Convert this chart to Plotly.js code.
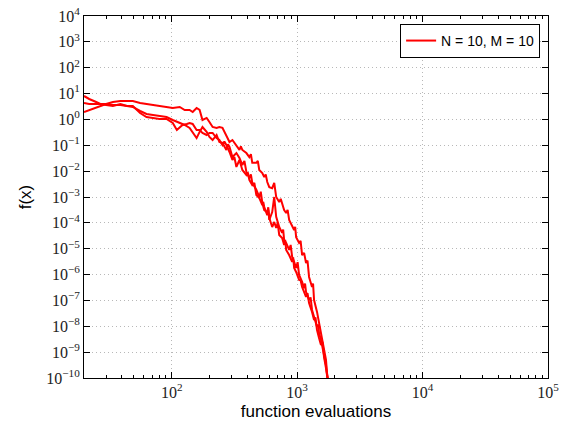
<!DOCTYPE html>
<html>
<head>
<meta charset="utf-8">
<script src="https://cdn.plot.ly/plotly-3.0.1.min.js"></script>
<style>html,body{margin:0;padding:0;background:#fff;}#chart{width:563px;height:422px;}</style>
</head>
<body>
<div id="chart"></div>
<script>
// Run 1 (function evaluations, f(x))
const evals1 = [20,22,25,27,30,34,39,44,49,56,63,71,80,91,102,116,127,139,147,158,167,176,190,200,212,228,240,254,273,289,305,328,347,356,366,394,416,428,439,473,486,499,528,547,562,578,600,633,657,681,720,740,760,788,818,840,864,913,947,965,982,1037,1066,1096,1137,1178,1210,1245,1315,1340,1365,1441,1495,1550,1638,1699,1730,1795];
const fx1 = [1.94,2.32,2.77,3.31,3.96,4.73,5.16,5.16,5.16,4.33,3.96,3.62,3.31,3.03,2.77,3.03,2.32,2.32,1.94,2.77,2.32,0.95,1.14,0.80,0.51,0.47,0.51,0.47,0.25,0.134,0.16,0.103,0.066,0.09,0.066,0.050,0.035,0.045,0.021,0.021,0.025,0.0111,0.0085,0.0059,0.0075,0.0038,0.0024,0.0022,0.0035,1.0e-3,6.4e-4,8.5e-4,4.9e-4,3.1e-4,2.4e-4,3.2e-4,1.3e-4,6.9e-5,5.3e-5,7.0e-5,2.8e-5,1.67e-5,2.0e-5,5.7e-6,6.9e-6,2.8e-6,3.5e-6,8.1e-7,3.3e-7,4.5e-7,1.04e-7,3.6e-8,1.35e-8,5.5e-9,1.2e-9,5.0e-10,1.57e-10,5.4e-11];

// Run 2
const evals2 = [20,22,25,27,30,34,39,44,49,56,63,71,80,91,102,110,116,122,132,139,147,158,167,176,190,200,212,228,240,254,263,273,289,305,316,328,347,366,394,405,416,439,456,473,499,528,537,547,578,589,600,633,657,681,720,760,774,788,818,864,888,913,947,982,1009,1037,1096,1137,1157,1178,1245,1280,1315,1365,1441,1468,1495,1550,1638,1699,1730,1762];
const fx2 = [8.07,6.18,4.73,3.96,3.62,3.31,3.96,3.31,3.31,1.77,1.24,1.14,1.04,1.04,0.73,0.39,0.51,0.61,0.67,0.73,0.67,0.39,0.39,0.30,0.25,0.30,0.30,0.19,0.16,0.103,0.14,0.103,0.055,0.027,0.035,0.0145,0.027,0.0111,0.0071,0.009,0.0046,0.0029,0.0035,0.0012,9.2e-4,4.9e-4,6.5e-4,4.1e-4,2.0e-4,3.2e-4,1.3e-4,2.6e-4,1.0e-3,1.7e-4,6.9e-5,4.1e-5,5.5e-5,2.2e-5,1.67e-5,9.0e-6,1.4e-5,4.8e-6,3.1e-6,1.8e-6,3.0e-6,9.7e-7,5.2e-7,3.0e-7,4.5e-7,2.1e-7,1.04e-7,1.3e-7,4.3e-8,2.3e-8,9.4e-9,1.2e-8,5.5e-9,3.0e-9,9.3e-10,3.2e-10,1.3e-10,5.4e-11];

// Run 3
const evals3 = [20,22,25,27,30,34,39,44,49,56,63,71,80,91,102,116,127,139,147,158,167,176,190,200,212,228,240,254,273,281,289,305,328,347,366,380,394,416,428,439,473,499,513,528,547,578,589,600,633,657,681,700,720,760,788,803,818,864,913,930,947,982,1037,1066,1096,1137,1178,1210,1245,1315,1365,1400,1441,1495,1550,1594,1638,1699,1762];
const fx3 = [4.33,3.96,3.96,3.96,3.96,3.62,3.62,3.31,3.03,2.12,1.62,1.49,1.36,1.24,0.95,0.73,0.61,0.47,0.33,0.19,0.33,0.51,0.33,0.21,0.16,0.25,0.134,0.123,0.066,0.11,0.086,0.035,0.050,0.032,0.0173,0.025,0.0093,0.0054,0.0075,0.0035,0.0019,1.0e-3,1.6e-3,5.9e-4,3.1e-4,2.6e-4,4.0e-4,1.55e-4,6.9e-5,1.08e-4,6.3e-5,1.0e-4,3.4e-5,2.6e-5,1.4e-5,2.2e-5,9.0e-6,5.7e-6,3.1e-6,4.6e-6,1.8e-6,1.26e-6,6.2e-7,6.0e-7,3.3e-7,2.1e-7,1.36e-7,1.9e-7,8.0e-8,3.6e-8,1.76e-8,2.2e-8,7.2e-9,3.5e-9,1.9e-9,2.5e-9,6.5e-10,2.4e-10,8.4e-11];

const legendLabel = "N = 10, M = 10";
const xTickVals = [1e2, 1e3, 1e4, 1e5];
const xTickText = ["10<sup>2</sup>","10<sup>3</sup>","10<sup>4</sup>","10<sup>5</sup>"];
const yExponents = [4,3,2,1,0,-1,-2,-3,-4,-5,-6,-7,-8,-9,-10];
const yTickVals = yExponents.map(e => Math.pow(10, e));
const yTickText = yExponents.map(e => "10<sup>" + String(e).replace("-", "\u2212") + "</sup>");

// minor tick positions on x (2..9 x decade)
const xMinor = [];
for (let d = 1; d <= 4; d++) for (let m = 2; m <= 9; m++) xMinor.push(m * Math.pow(10, d));

const lineStyle = {color: '#ff0000', width: 2};
const traces = [
  {x: evals1, y: fx1, type: 'scatter', mode: 'lines', line: lineStyle, name: legendLabel, showlegend: true},
  {x: evals2, y: fx2, type: 'scatter', mode: 'lines', line: lineStyle, name: legendLabel, showlegend: false},
  {x: evals3, y: fx3, type: 'scatter', mode: 'lines', line: lineStyle, name: legendLabel, showlegend: false}
];

const tickFont = {family: 'Liberation Serif, DejaVu Serif, serif', size: 16, color: '#222'};
const layout = {
  width: 563, height: 422,
  margin: {l: 84, r: 15, t: 16, b: 44},
  paper_bgcolor: '#fff', plot_bgcolor: '#fff',
  showlegend: true,
  legend: {x: 0.983, y: 0.978, xanchor: 'right', yanchor: 'top',
    bordercolor: '#000', borderwidth: 1, bgcolor: '#fff',
    font: {family: 'Liberation Sans, Arial, sans-serif', size: 14, color: '#000'}},
  xaxis: {
    type: 'log', range: [Math.log10(20), 5],
    tickvals: xTickVals, ticktext: xTickText, tickfont: tickFont,
    ticks: 'inside', ticklen: 6, tickcolor: '#000',
    showline: true, linecolor: '#000', linewidth: 1, mirror: 'ticks',
    showgrid: true, gridcolor: '#b8b8b8', griddash: '1px,3px', gridwidth: 1,
    zeroline: false,
    minor: {tickvals: xMinor, ticks: 'inside', ticklen: 3, tickcolor: '#000', showgrid: false},
    title: {text: 'function evaluations', font: {family: 'Liberation Sans, Arial, sans-serif', size: 17, color: '#000'}, standoff: 4}
  },
  yaxis: {
    type: 'log', range: [-10, 4],
    tickvals: yTickVals, ticktext: yTickText, tickfont: tickFont,
    ticks: 'inside', ticklen: 6, tickcolor: '#000',
    showline: true, linecolor: '#000', linewidth: 1, mirror: 'ticks',
    showgrid: true, gridcolor: '#b8b8b8', griddash: '1px,3px', gridwidth: 1,
    zeroline: false,
    title: {text: 'f(x)', font: {family: 'Liberation Sans, Arial, sans-serif', size: 17, color: '#000'}, standoff: 10}
  }
};

Plotly.newPlot('chart', traces, layout, {displayModeBar: false, staticPlot: true});
</script>
</body>
</html>
